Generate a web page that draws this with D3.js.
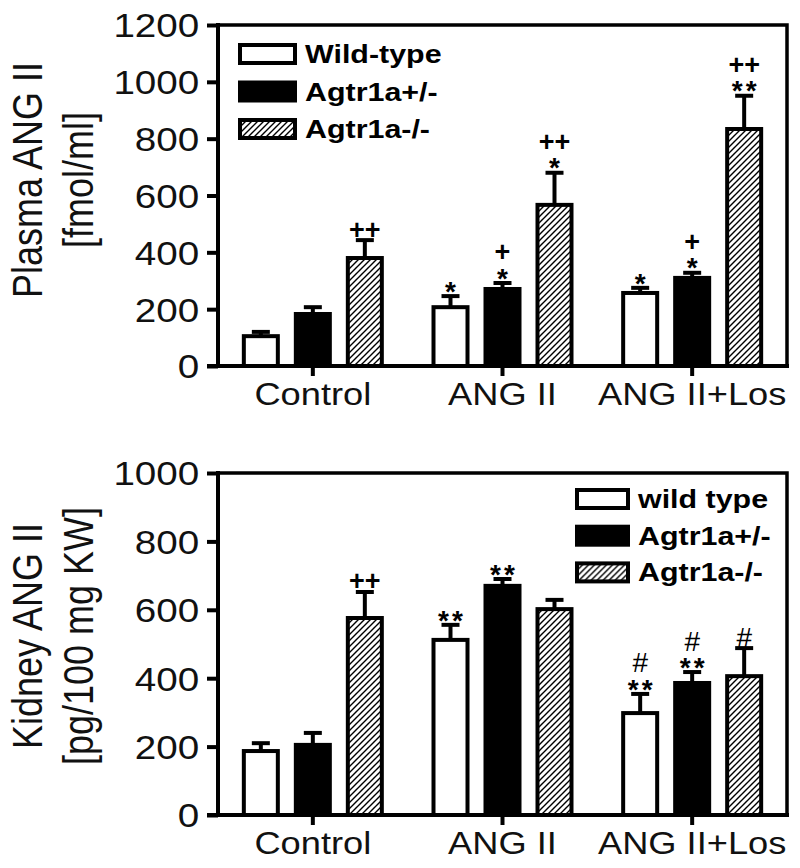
<!DOCTYPE html>
<html>
<head>
<meta charset="utf-8">
<script src="https://cdn.jsdelivr.net/npm/d3@7"></script>
<style>
body{margin:0;background:#fff}
svg{display:block;font-family:"Liberation Sans",Arial,Helvetica,sans-serif}
</style>
</head>
<body>
<svg id="chart" width="800" height="868"></svg>
<script>
// data
const groups = ['Control', 'ANG II', 'ANG II+Los']
const series = ['wt', 'het', 'ko']

const plasmaLegend = ['Wild-type', 'Agtr1a+/-', 'Agtr1a-/-']
const plasmaMean = [[105, 183, 380], [207, 271, 567], [257, 310, 834]]
const plasmaErr = [[15, 24, 63], [39, 21, 113], [18, 18, 117]]
const plasmaMarks = [[[], [], ['++']], [['*'], ['*', '+'], ['*', '++']], [['*'], ['*', '+'], ['**', '++']]]
const plasmaTicks = [0, 200, 400, 600, 800, 1000, 1200]

const kidneyLegend = ['wild type', 'Agtr1a+/-', 'Agtr1a-/-']
const kidneyMean = [[187, 205, 576], [512, 670, 602], [298, 386, 406]]
const kidneyErr = [[23, 35, 76], [44, 20, 27], [56, 32, 82]]
const kidneyMarks = [[[], [], ['++']], [['**'], ['**'], []], [['**', '#'], ['**', '#'], ['#']]]
const kidneyTicks = [0, 200, 400, 600, 800, 1000]

const SX = 1.17 // the original lettering is a bit wide

const svg = d3.select('#chart')

let pat = svg.append('defs').append('pattern')
  .attr('id', 'hatch')
  .attr('patternUnits', 'userSpaceOnUse')
  .attr('width', 6).attr('height', 6)
pat.append('rect').attr('width', 6).attr('height', 6).attr('fill', '#fff')
pat.append('path')
  .attr('d', 'M-1,1L1,-1M0,6L6,0M5,7L7,5')
  .attr('stroke', '#000').attr('stroke-width', 1.4)

const fills = { wt: '#fff', het: '#000', ko: 'url(#hatch)' }

function markStyle(s) {
  if (s.includes('*')) return { fs: 28, fw: 'bold', dy: 0.56 * 28, ls: 3 }
  if (s.includes('+')) return { fs: 27, fw: 'bold', dy: 0.35 * 27, ls: 0 }
  return { fs: 28, fw: 'normal', dy: 0.34 * 28, ls: 0 }
}

function panel(o) {
  const y = d3.scaleLinear().domain([0, d3.max(o.ticks)]).range([o.bottom, o.top])
  const x = d3.scaleBand().domain(groups).range([218, 787])
  const xi = d3.scaleBand().domain(series).range([-69, 69]).paddingInner(18 / 52)

  const g = svg.append('g')

  // frame
  g.append('path')
    .attr('d', `M218,${o.top}H787V${o.bottom}`)
    .attr('fill', 'none').attr('stroke', '#000').attr('stroke-width', 3.5)

  const rows = o.mean.flatMap((m, gi) => m.map((v, si) => ({
    grp: groups[gi], s: series[si], v: v, e: o.err[gi][si], marks: o.marks[gi][si]
  })))

  // error bars (upper half only)
  const eb = g.selectAll('.eb').data(rows).enter().append('g')
    .attr('transform', d => `translate(${x(d.grp) + x.bandwidth() / 2 + xi(d.s) + xi.bandwidth() / 2},0)`)
  eb.append('line')
    .attr('y1', d => y(d.v)).attr('y2', d => y(d.v + d.e))
    .attr('stroke', '#000').attr('stroke-width', 4)
  eb.append('line')
    .attr('x1', -9).attr('x2', 9)
    .attr('y1', d => y(d.v + d.e)).attr('y2', d => y(d.v + d.e))
    .attr('stroke', '#000').attr('stroke-width', 4)

  g.selectAll('.bar').data(rows).enter().append('rect')
    .attr('x', d => x(d.grp) + x.bandwidth() / 2 + xi(d.s))
    .attr('width', xi.bandwidth())
    .attr('y', d => y(d.v))
    .attr('height', d => y(0) - y(d.v))
    .attr('fill', d => fills[d.s])
    .attr('stroke', '#000').attr('stroke-width', 4)

  // significance marks, stacked lines in one text each
  rows.filter(d => d.marks.length).forEach(d => {
    const cx = x(d.grp) + x.bandwidth() / 2 + xi(d.s) + xi.bandwidth() / 2
    const t = g.append('text').attr('text-anchor', 'middle')
    d.marks.forEach((m, k) => {
      const st = markStyle(m)
      const cy = y(d.v + d.e) - 11 - k * 20
      t.append('tspan')
        .attr('x', cx + st.ls / 2).attr('y', cy + st.dy)
        .attr('font-size', st.fs).attr('font-weight', st.fw)
        .attr('letter-spacing', st.ls)
        .text(m)
    })
  })

  // axes
  const ya = g.append('g').attr('transform', 'translate(218,0)')
    .call(d3.axisLeft(y).tickValues(o.ticks).tickFormat(d3.format('d'))
      .tickSize(11).tickSizeOuter(0).tickPadding(5))
  ya.selectAll('path,line').attr('stroke', '#000').attr('stroke-width', 4)
  ya.select('.domain').attr('d', `M0,${o.bottom + 2}V${o.top - 2}`)
  ya.selectAll('text')
    .attr('font-size', 33).attr('font-family', null).attr('fill', '#111')
    .attr('dy', '0.36em')
    .attr('transform', `scale(${SX},1)`)

  const xa = g.append('g').attr('transform', `translate(0,${o.bottom})`)
    .call(d3.axisBottom(x).tickSize(10).tickSizeOuter(0).tickPadding(0))
  xa.selectAll('path,line').attr('stroke', '#000').attr('stroke-width', 4)
  xa.select('.domain').attr('d', 'M207,0H789')
  xa.selectAll('text')
    .attr('font-size', 31).attr('font-family', null).attr('fill', '#111')
    .attr('y', 39).attr('dy', 0)
    .attr('transform', `scale(${SX},1)`)

  // y label, two lines
  o.ylab.forEach((t, i) => {
    g.append('text')
      .attr('transform', `translate(${[42, 93][i]},${o.labY}) rotate(-90) scale(1,${SX})`)
      .attr('text-anchor', 'middle')
      .attr('font-size', 36).attr('fill', '#111')
      .text(t)
  })

  // legend
  const lg = g.selectAll('.lg').data(o.legend).enter().append('g')
    .attr('transform', (d, i) => `translate(${o.legX},${o.legY + i * o.legStep})`)
  lg.append('rect')
    .attr('x', 2).attr('y', -9)
    .attr('width', o.boxW).attr('height', 18)
    .attr('fill', (d, i) => fills[series[i]])
    .attr('stroke', '#000').attr('stroke-width', 4)
  lg.append('text')
    .attr('transform', `translate(${o.boxW + 12},9) scale(${SX},1)`)
    .attr('font-size', 26).attr('font-weight', 'bold')
    .text(d => d)
}

panel({
  top: 25, bottom: 366, ticks: plasmaTicks,
  mean: plasmaMean, err: plasmaErr, marks: plasmaMarks,
  legend: plasmaLegend, legX: 238, legY: 54, legStep: 37.5, boxW: 55,
  ylab: ['Plasma ANG II', '[fmol/ml]'], labY: 180
})

panel({
  top: 473, bottom: 815, ticks: kidneyTicks,
  mean: kidneyMean, err: kidneyErr, marks: kidneyMarks,
  legend: kidneyLegend, legX: 575, legY: 499, legStep: 36.7, boxW: 51,
  ylab: ['Kidney ANG II', '[pg/100 mg KW]'], labY: 636
})
</script>
</body>
</html>
